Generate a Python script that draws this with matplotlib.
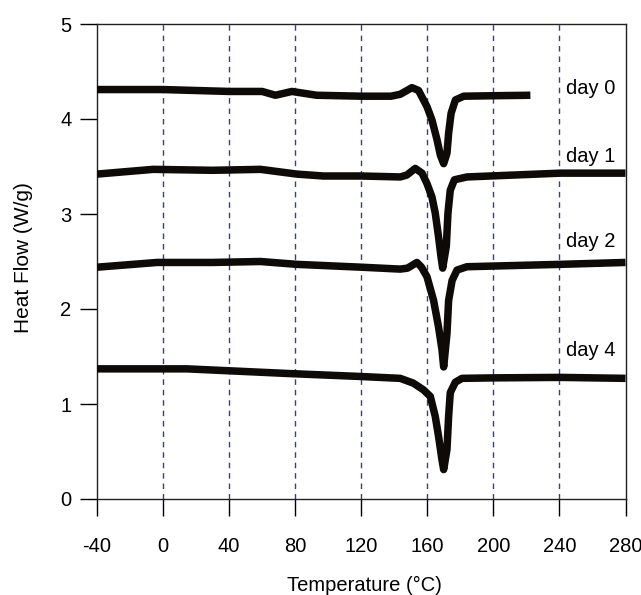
import matplotlib
matplotlib.use("Agg")
import matplotlib.pyplot as plt

plt.rcParams['font.family'] = ['Liberation Sans', 'DejaVu Sans']

# Data (temperature in °C, heat flow in W/g)
day0_x = [-40, 0, 40, 60, 68, 78, 93, 120, 138, 143.6, 150.7, 154.7, 159.8, 162.8, 165.9, 167.9, 169.9,
          171.9, 172.9, 174.4, 177, 182, 200, 222.4]
day0_y = [4.31, 4.31, 4.29, 4.29, 4.25, 4.29, 4.25, 4.24, 4.24, 4.26, 4.33, 4.30, 4.13, 3.99, 3.78, 3.62, 3.53,
          3.64, 3.85, 4.06, 4.20, 4.24, 4.245, 4.25]

day1_x = [-40, -6, 30, 59, 81, 97, 120, 143.6, 147.6, 152.7, 156.8, 159.8, 162.8, 164.8, 166.8, 168.3, 169.3,
          171.5, 172.5, 173.9, 176.4, 184, 240.6, 280]
day1_y = [3.42, 3.47, 3.46, 3.47, 3.42, 3.40, 3.40, 3.39, 3.41, 3.48, 3.43, 3.32, 3.18, 3.01, 2.76, 2.55, 2.43,
          2.66, 3.01, 3.25, 3.36, 3.39, 3.43, 3.43]

day2_x = [-40, -3.6, 30, 59, 81, 120, 143.6, 148, 153.7, 156.5, 159.8, 163.8, 166.8, 168.9, 169.9,
          171.9, 172.9, 175, 178, 184, 240.6, 280]
day2_y = [2.44, 2.49, 2.49, 2.50, 2.47, 2.44, 2.42, 2.43, 2.49, 2.44, 2.34, 2.09, 1.81, 1.57, 1.39,
          1.74, 2.09, 2.30, 2.41, 2.445, 2.47, 2.49]

day4_x = [-40, 14.5, 77, 119, 143.6, 151.5, 157.6, 161.8, 164.8, 166.8, 168.9, 169.9,
          171.9, 172.9, 173.9, 177, 181, 200, 240.6, 280]
day4_y = [1.37, 1.37, 1.32, 1.29, 1.27, 1.22, 1.15, 1.08, 0.87, 0.66, 0.41, 0.31,
          0.52, 0.87, 1.12, 1.23, 1.27, 1.275, 1.28, 1.27]

labels = ["day 0", "day 1", "day 2", "day 4"]
label_x = [244, 244, 244, 244]
label_y = [4.32, 3.60, 2.71, 1.56]

x_ticks = [-40, 0, 40, 80, 120, 160, 200, 240, 280]
y_ticks = [0, 1, 2, 3, 4, 5]
grid_x = [0, 40, 80, 120, 160, 200, 240]

fig = plt.figure(figsize=(6.41, 5.95), dpi=100)
ax = fig.add_axes([97/641, 1 - 499/595, (625.5 - 97)/641, (499 - 24)/595])

for gx in grid_x:
    ax.axvline(gx, color='#34408a', linewidth=1.0, linestyle=(0, (4, 3.5)), zorder=1)

series = [(day0_x, day0_y), (day1_x, day1_y), (day2_x, day2_y), (day4_x, day4_y)]
for xs, ys in series:
    ax.plot(xs, ys, color='#0d0a08', linewidth=5.4, solid_joinstyle='round',
            solid_capstyle='butt', zorder=3)

for t, lx, ly in zip(labels, label_x, label_y):
    ax.text(lx, ly, t, fontsize=14.5, ha='left', va='center', color='black', zorder=4)

ax.set_xlim(-40, 280)
ax.set_ylim(0, 5)
ax.set_xticks(x_ticks)
ax.set_xticklabels([str(v) for v in x_ticks])
ax.set_yticks(y_ticks)
ax.set_yticklabels([str(v) for v in y_ticks])
ax.tick_params(axis='x', direction='out', length=12.5, width=1.0, pad=15, labelsize=14.5)
ax.tick_params(axis='y', direction='out', length=12.5, width=1.0, pad=6, labelsize=14.5)
for s in ax.spines.values():
    s.set_linewidth(1.0)
    s.set_color('#222222')

fig.text(24/641, 1 - 258/595, "Heat Flow (W/g)", rotation=90, fontsize=15,
         ha='center', va='center')
fig.text(364/641, 1 - 585/595, "Temperature (°C)", fontsize=14.5, ha='center', va='center')

fig.savefig("out.png", dpi=100)
